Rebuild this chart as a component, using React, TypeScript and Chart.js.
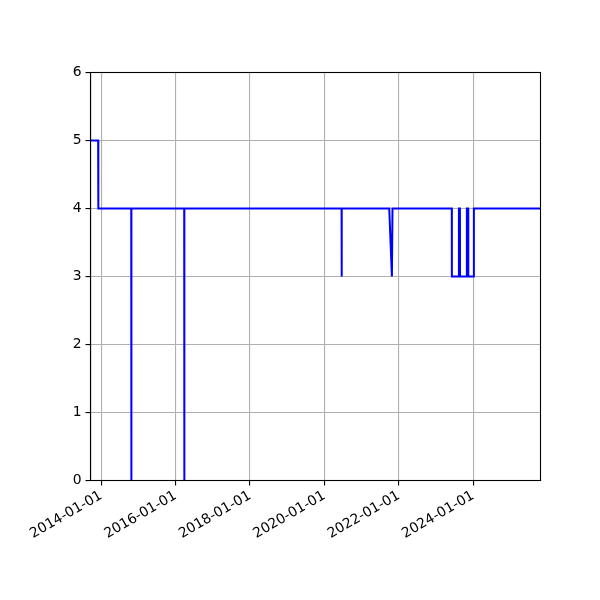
import React, { useEffect, useRef } from "react";
import { Chart, registerables } from "chart.js";

Chart.register(...registerables);

// Vertices of the series (date, value)
const dates: string[] = [
  "2013-09-18", "2013-12-02", "2013-12-04",
  "2014-10-23", "2014-10-24", "2014-10-25",
  "2016-03-26", "2016-03-27", "2016-03-28",
  "2020-06-18", "2020-06-19", "2020-06-20",
  "2021-09-29", "2021-10-25", "2021-10-31",
  "2023-06-05", "2023-06-06",
  "2023-08-13", "2023-08-14", "2023-08-24", "2023-08-25",
  "2023-10-30", "2023-10-31", "2023-11-13", "2023-11-14",
  "2024-01-07", "2024-01-08",
  "2025-10-23",
];
const values: number[] = [
  5, 5, 4,
  4, 0, 4,
  4, 0, 4,
  4, 3, 4,
  4, 3, 4,
  4, 3,
  3, 4, 4, 3,
  3, 4, 4, 3,
  3, 4,
  4,
];

const xTickDates: string[] = [
  "2014-01-01", "2016-01-01", "2018-01-01", "2020-01-01", "2022-01-01", "2024-01-01",
];
const yTicks: number[] = [0, 1, 2, 3, 4, 5, 6];
const xMinDate = "2013-09-18";
const xMaxDate = "2025-10-23";

const toMs = (d: string) => Date.parse(d + "T00:00:00Z");

const frame = {
  id: "frame",
  afterDraw(chart: any) {
    const { ctx, chartArea } = chart;
    ctx.save();
    ctx.strokeStyle = "#000";
    ctx.lineWidth = 1.1;
    ctx.strokeRect(chartArea.left, chartArea.top, chartArea.right - chartArea.left, chartArea.bottom - chartArea.top);
    ctx.restore();
  },
};

export default function App() {
  const ref = useRef<HTMLCanvasElement | null>(null);
  useEffect(() => {
    if (!ref.current) return;
    const font = { family: "DejaVu Sans", size: 13.9 };
    const chart = new Chart(ref.current, {
      type: "line",
      data: {
        datasets: [
          {
            data: dates.map((d, i) => ({ x: toMs(d), y: values[i] })),
            borderColor: "#0000ff",
            borderWidth: 2,
            pointRadius: 0,
            tension: 0,
            fill: false,
          },
        ],
      },
      options: {
        animation: false,
        responsive: true,
        maintainAspectRatio: false,
        devicePixelRatio: 1,
        layout: { padding: { left: 0, top: 72.5, right: 59.5, bottom: 0 } },
        plugins: { legend: { display: false }, tooltip: { enabled: false } },
        scales: {
          x: {
            type: "linear",
            min: toMs(xMinDate),
            max: toMs(xMaxDate),
            afterFit: (s: any) => { s.height = 119.5; },
            afterBuildTicks: (s: any) => {
              s.ticks = xTickDates.map((d) => ({ value: toMs(d) }));
            },
            ticks: {
              autoSkip: false,
              minRotation: 30,
              maxRotation: 30,
              color: "#000",
              font,
              padding: 2,
              callback: (_v: any, i: number) => xTickDates[i],
            },
            grid: { color: "#b0b0b0", lineWidth: 1.1, tickColor: "#000", tickLength: 5 },
            border: { color: "#000", width: 1.1 },
          },
          y: {
            type: "linear",
            min: yTicks[0],
            max: yTicks[yTicks.length - 1],
            afterFit: (s: any) => { s.width = 90.5; },
            afterBuildTicks: (s: any) => {
              s.ticks = yTicks.map((v) => ({ value: v }));
            },
            ticks: { color: "#000", font, padding: 4, callback: (v: any) => String(v) },
            grid: { color: "#b0b0b0", lineWidth: 1.1, tickColor: "#000", tickLength: 5 },
            border: { color: "#000", width: 1.1 },
          },
        },
      },
      plugins: [frame],
    });
    return () => chart.destroy();
  }, []);
  return (
    <div style={{ position: "absolute", left: 0, top: 0, width: 600, height: 600, background: "#fff" }}>
      <canvas ref={ref} />
    </div>
  );
}
